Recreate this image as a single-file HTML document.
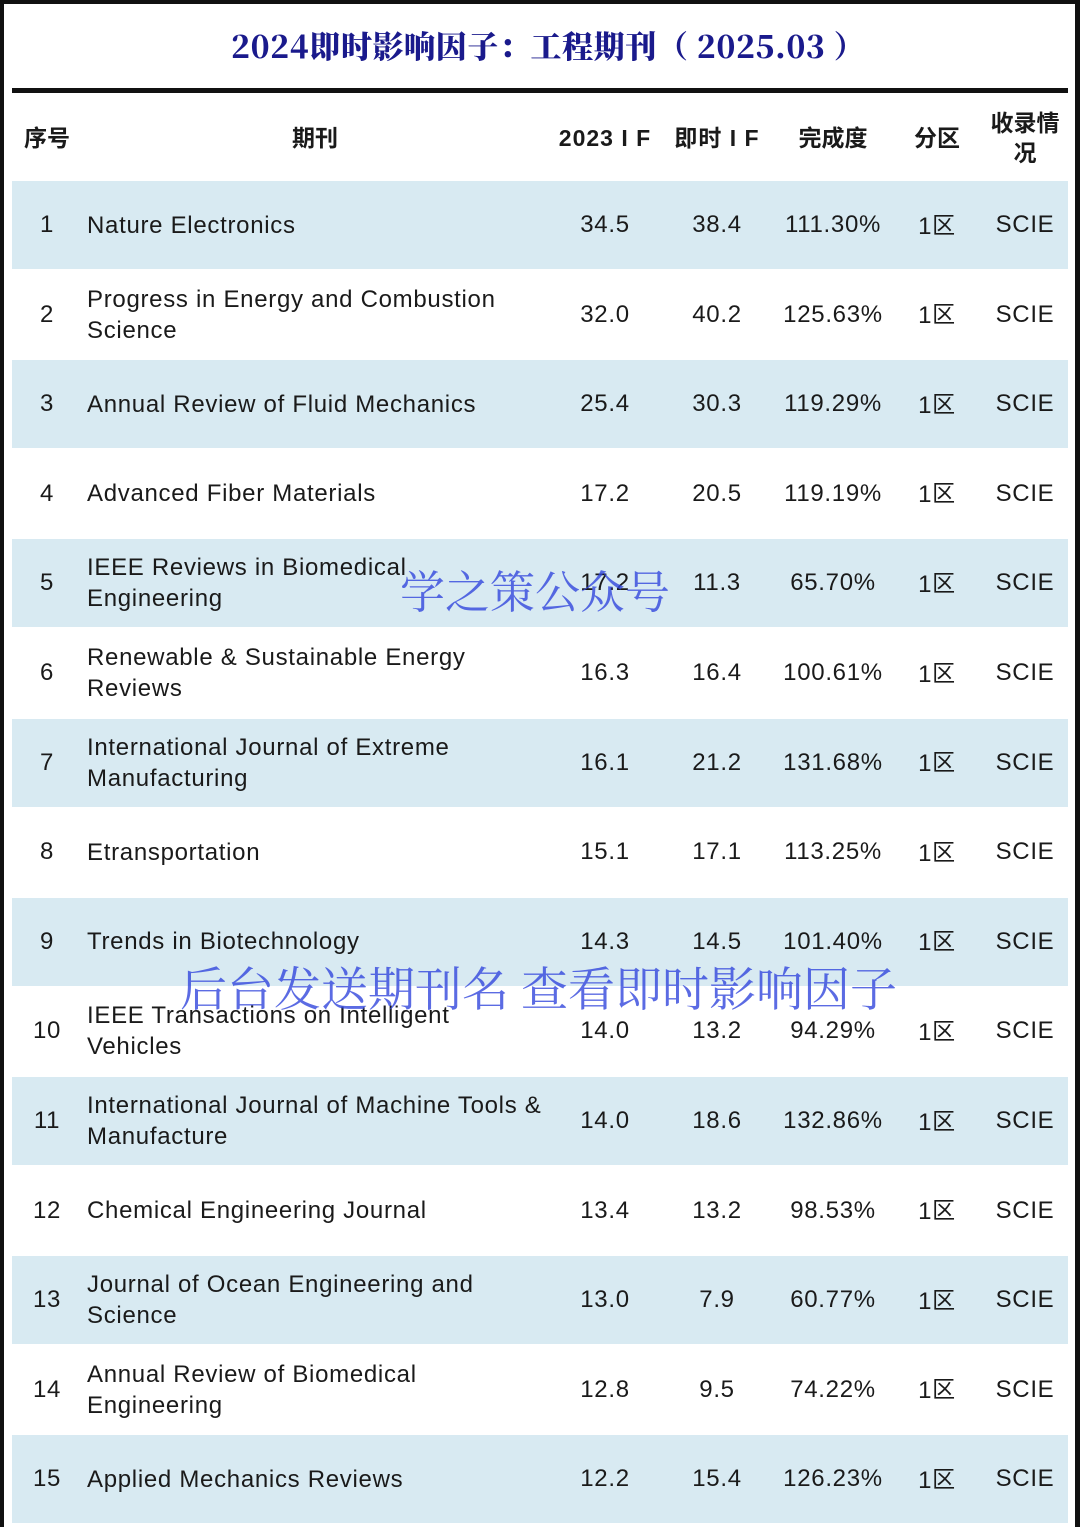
<!DOCTYPE html>
<html><head><meta charset="utf-8"><style>
body{margin:0;width:1080px;height:1527px;background:#fff;position:relative;overflow:hidden;font-family:"Liberation Sans","Noto Sans CJK SC",sans-serif;color:#1a1a1a}
.a{position:absolute}
.row{position:absolute;left:12px;width:1056px;height:88px}
.c{position:absolute;top:0;height:88px;display:flex;align-items:center;justify-content:center;font-size:24px;letter-spacing:0.7px;line-height:28px}
.c span{display:inline-block}
.z{font-family:"Liberation Sans",sans-serif}
.z i{font-style:normal;font-family:"Noto Sans CJK SC",sans-serif;font-size:23px;position:relative;top:-1px}
.h{position:absolute;top:95px;height:85px;display:flex;align-items:center;justify-content:center;font-size:23px;font-weight:bold;text-align:center;line-height:30px}
.wm{position:absolute;font-family:"Noto Serif CJK SC","Liberation Serif",serif;color:rgba(50,70,220,0.8);white-space:nowrap}
</style></head><body>
<div class="a" style="left:0;top:0;width:4px;height:1527px;background:#111"></div>
<div class="a" style="left:1075px;top:0;width:5px;height:1527px;background:#111"></div>
<div class="a" style="left:0;top:0;width:1080px;height:4px;background:#111"></div>
<div class="a" style="left:231px;top:22px;white-space:nowrap;font-family:'Noto Serif CJK SC','Liberation Serif',serif;font-weight:900;font-size:31px;letter-spacing:0.6px;color:#1a1a8c">2024即时影响因子：工程期刊（ 2025.03 ）</div>
<div class="a" style="left:12px;top:88px;width:1056px;height:5px;background:#111"></div>
<div class="h" style="left:12px;width:70px">序号</div>
<div class="h" style="left:215px;width:200px">期刊</div>
<div class="h" style="left:555px;width:100px;letter-spacing:1px">2023 I F</div>
<div class="h" style="left:667px;width:100px;letter-spacing:1px">即时 I F</div>
<div class="h" style="left:783px;width:100px">完成度</div>
<div class="h" style="left:897px;width:80px">分区</div>
<div class="h" style="left:980px;width:90px">收录情<br>况</div>
<div id="rows"></div>
<div class="wm" style="left:400px;top:556px;font-size:45px">学之策公众号</div>
<div class="wm" style="left:180px;top:953px;font-size:47px">后台发送期刊名 查看即时影响因子</div>
<script>
const journals=["Nature Electronics","Progress in Energy and Combustion<br>Science","Annual Review of Fluid Mechanics","Advanced Fiber Materials","IEEE Reviews in Biomedical<br>Engineering","Renewable &amp; Sustainable Energy<br>Reviews","International Journal of Extreme<br>Manufacturing","Etransportation","Trends in Biotechnology","IEEE Transactions on Intelligent<br>Vehicles","International Journal of Machine Tools &amp;<br>Manufacture","Chemical Engineering Journal","Journal of Ocean Engineering and<br>Science","Annual Review of Biomedical<br>Engineering","Applied Mechanics Reviews"];
const if2023=["34.5","32.0","25.4","17.2","17.2","16.3","16.1","15.1","14.3","14.0","14.0","13.4","13.0","12.8","12.2"];
const ifNow=["38.4","40.2","30.3","20.5","11.3","16.4","21.2","17.1","14.5","13.2","18.6","13.2","7.9","9.5","15.4"];
const completion=["111.30%","125.63%","119.29%","119.19%","65.70%","100.61%","131.68%","113.25%","101.40%","94.29%","132.86%","98.53%","60.77%","74.22%","126.23%"];
const box=document.getElementById('rows');
journals.forEach((j,i)=>{
  const r=document.createElement('div');
  r.className='row';
  
  
  r.style.top=(181+i*89.6)+'px';
  r.style.background=i%2===0?'#d8eaf2':'#fff';
  const cells=[[0,70,String(i+1),'center'],[75,480,j,'left'],[543,100,if2023[i],'center'],[655,100,ifNow[i],'center'],[771,100,completion[i],'center'],[885,80,'1<i>区</i>','center'],[968,90,'SCIE','center']];
  cells.forEach((c,k)=>{
    const d=document.createElement('div');
    d.className='c'+(k===5?' z':'');
    
    
    d.style.left=c[0]+'px';d.style.width=c[1]+'px';
    if(c[3]==='left'){d.style.justifyContent='flex-start';d.style.lineHeight='31px';}
    d.innerHTML='<span>'+c[2]+'</span>';
    r.appendChild(d);
  });
  box.appendChild(r);
});
</script>
</body></html>
